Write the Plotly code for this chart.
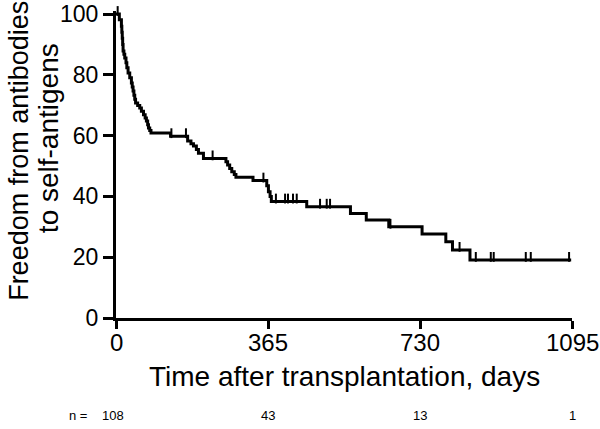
import numpy as np
import plotly.graph_objects as go

# Kaplan-Meier step data (days, % free from antibodies)
step_days = [0, 8, 13, 14, 15, 16, 17, 19, 21, 24, 26, 29, 33, 37, 39, 41, 43, 45, 47,
             52, 57, 61, 66, 70, 73, 76, 78, 81, 84, 131, 172, 180, 186, 193, 198, 210,
             264, 268, 273, 278, 284, 288, 329, 362, 366, 370, 373, 458, 563, 601, 655,
             735, 792, 808, 850]
step_surv = [100, 98.1, 96, 94, 92, 90, 87.8, 86.8, 85.5, 84, 82.3, 80.6, 79, 77.3, 76, 74.7,
             73.3, 72, 70.7, 69.9, 69.1, 68, 66.9, 65.8, 64.8, 63.6, 62.5, 61.7, 60.9, 59.8,
             58.2, 57.3, 56.6, 55.4, 54.2, 52.5, 51.4, 50.3, 49.2, 48.1, 47.2, 46.3, 45.2,
             43.5, 41.5, 40, 38.3, 36.6, 34.4, 32.2, 30.0, 27.6, 25.1, 22.4, 19.1]
end_day = 1093

censor_days = [4, 133, 168, 232, 354, 384, 406, 413, 425, 434, 490, 506, 514, 659,
               825, 864, 900, 907, 984, 996, 1088]

x_ticks = [0, 365, 730, 1095]
x_max = 1095
y_ticks = [0, 20, 40, 60, 80, 100]
n_at_risk = [108, 43, 13, 1]

y_title_lines = ["Freedom from antibodies", "to self-antigens"]
x_title = "Time after transplantation, days"

FONT = "Liberation Sans, Arial, Helvetica, sans-serif"

# step function value at censor times
sd = np.array(step_days)
ss = np.array(step_surv)
cens_vals = [float(ss[np.searchsorted(sd, d, side="right") - 1]) for d in censor_days]

line_x = step_days + [end_day]
line_y = step_surv + [step_surv[-1]]

fig = go.Figure()
fig.add_trace(go.Scatter(
    x=line_x, y=line_y, mode="lines", line_shape="hv",
    line=dict(color="black", width=3), showlegend=False, hoverinfo="skip"))
fig.add_trace(go.Scatter(
    x=censor_days, y=[v + 1.0 for v in cens_vals], mode="markers",
    marker=dict(symbol="line-ns", size=7, line=dict(width=2, color="black"), color="black"),
    showlegend=False, hoverinfo="skip", cliponaxis=False))

annotations = [
    dict(text=y_title_lines[0], textangle=-90, xref="paper", yref="paper", x=-0.213, y=0.544,
         xanchor="center", yanchor="middle", showarrow=False,
         font=dict(family=FONT, size=27, color="black")),
    dict(text=y_title_lines[1], textangle=-90, xref="paper", yref="paper", x=-0.149, y=0.586,
         xanchor="center", yanchor="middle", showarrow=False,
         font=dict(family=FONT, size=28, color="black")),
    dict(text=x_title, xref="paper", yref="paper", x=0.5, y=-0.192,
         xanchor="center", yanchor="middle", showarrow=False,
         font=dict(family=FONT, size=28, color="black")),
    dict(text="n =", xref="paper", yref="paper", x=-0.108, y=-0.319,
         xanchor="left", yanchor="middle", showarrow=False,
         font=dict(family=FONT, size=13, color="black")),
]
for d in x_ticks:
    annotations.append(dict(text=str(d), xref="paper", yref="paper", x=d / x_max,
                            y=-0.079, xanchor="center", yanchor="middle", showarrow=False,
                            font=dict(family=FONT, size=24, color="black")))
for d, n in zip(x_ticks, n_at_risk):
    annotations.append(dict(text=str(n), xref="paper", yref="paper", x=d / x_max,
                            xshift=(-3 if d == 0 else 0),
                            y=-0.319, xanchor="center", yanchor="middle", showarrow=False,
                            font=dict(family=FONT, size=13, color="black")))

fig.update_layout(
    width=600, height=429,
    margin=dict(l=116, r=28, t=11, b=111),
    paper_bgcolor="white", plot_bgcolor="white",
    font=dict(family=FONT, color="black"),
    xaxis=dict(range=[0, x_max], tickvals=x_ticks, showticklabels=False, automargin=False,
               showline=True, linewidth=3, linecolor="black", ticks="outside",
               ticklen=8, tickwidth=3, tickcolor="black", showgrid=False, zeroline=False),
    yaxis=dict(range=[0, 101], tickvals=y_ticks, showline=True, linewidth=3, automargin=False,
               linecolor="black", ticks="outside", ticklen=10, tickwidth=3,
               tickcolor="black", showgrid=False, zeroline=False,
               tickfont=dict(family=FONT, size=23, color="black")),
    annotations=annotations,
)

fig.write_html("out.html", config={"displayModeBar": False},
               post_script="document.body.style.margin='0px';document.body.style.overflow='hidden';")
